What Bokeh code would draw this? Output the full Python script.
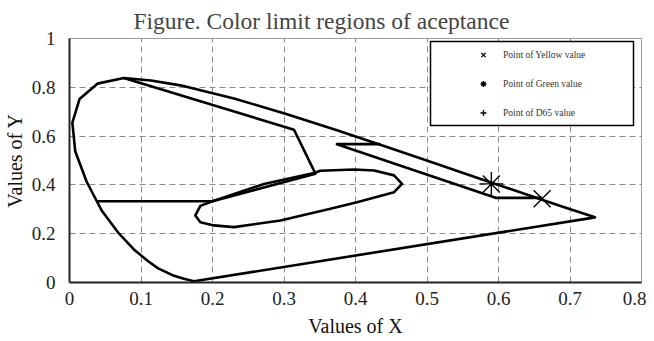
from bokeh.plotting import figure
from bokeh.models import FixedTicker, Legend, LegendItem, BoxAnnotation
from bokeh.embed import file_html
from bokeh.resources import INLINE

# Outer spectral locus (closed by the line of purples)
locus_x = [0.174, 0.160, 0.144, 0.124, 0.110, 0.091, 0.069, 0.045, 0.024, 0.008,
           0.004, 0.014, 0.039, 0.076, 0.114, 0.155, 0.230, 0.302, 0.373, 0.444,
           0.513, 0.575, 0.627, 0.666, 0.692, 0.735, 0.174]
locus_y = [0.005, 0.015, 0.030, 0.058, 0.087, 0.133, 0.201, 0.295, 0.413, 0.538,
           0.655, 0.752, 0.815, 0.838, 0.828, 0.808, 0.754, 0.692, 0.625, 0.555,
           0.487, 0.424, 0.373, 0.334, 0.308, 0.267, 0.005]

# Green acceptance region border
green_x = [0.076, 0.314, 0.344, 0.200, 0.039]
green_y = [0.838, 0.626, 0.446, 0.333, 0.333]

# Yellow acceptance region border
yellow_x = [0.435, 0.374, 0.596, 0.661]
yellow_y = [0.567, 0.567, 0.347, 0.347]

# Loop region
loop_x = [0.200, 0.183, 0.176, 0.183, 0.202, 0.230, 0.295, 0.365, 0.402, 0.454,
          0.465, 0.454, 0.426, 0.398, 0.351, 0.342, 0.272, 0.200]
loop_y = [0.333, 0.314, 0.275, 0.247, 0.234, 0.227, 0.254, 0.302, 0.329, 0.370,
          0.404, 0.439, 0.459, 0.463, 0.458, 0.449, 0.404, 0.333]

# Points
yellow_pt_x = [0.661]
yellow_pt_y = [0.343]
green_pt_x = [0.590]
green_pt_y = [0.404]
d65_pt_x = [0.3127]   # listed in the legend, not drawn in the chart
d65_pt_y = [0.3290]

x_ticks = [0, 0.1, 0.2, 0.3, 0.4, 0.5, 0.6, 0.7, 0.8]
x_labels = ["0", "0.1", "0.2", "0.3", "0.4", "0.5", "0.6", "0.7", "0.8"]
y_ticks = [0, 0.2, 0.4, 0.6, 0.8, 1.0]
y_labels = ["0", "0.2", "0.4", "0.6", "0.8", "1"]

FONT = "Liberation Serif"

p = figure(x_range=(0, 0.8), y_range=(0, 1), frame_width=572, frame_height=244,
           output_backend="svg", toolbar_location=None,
           min_border_left=61, min_border_right=5, min_border_top=30, min_border_bottom=51)

p.title.text = "Figure. Color limit regions of aceptance"
p.title.text_font = FONT
p.title.text_font_size = "23.5px"
p.title.text_font_style = "normal"
p.title.align = "left"
p.title.offset = 64
p.title.standoff = 10

p.background_fill_color = "white"
p.border_fill_color = "white"
p.outline_line_color = "#9a9a9a"
p.outline_line_width = 1

for ax, ticks, labels in ((p.xaxis[0], x_ticks, x_labels), (p.yaxis[0], y_ticks, y_labels)):
    ax.ticker = FixedTicker(ticks=ticks)
    ax.major_label_overrides = {t: l for t, l in zip(ticks, labels)}
    ax.major_label_text_font = FONT
    ax.major_label_text_font_size = "19px"
    ax.major_label_text_color = "#222222"
    ax.axis_label_text_font = FONT
    ax.axis_label_text_font_size = "20px"
    ax.axis_label_text_font_style = "normal"
    ax.axis_label_text_color = "#111111"
    ax.axis_line_color = "#222222"
    ax.axis_line_width = 2
    ax.major_tick_in = 0
    ax.major_tick_out = 0
    ax.minor_tick_line_color = None

p.xaxis.axis_label = "Values of X"
p.yaxis.axis_label = "Values of Y"
p.xaxis.major_label_standoff = 9
p.xaxis.axis_label_standoff = 7
p.yaxis.major_label_standoff = 14
p.yaxis.axis_label_standoff = 3
p.yaxis.major_label_orientation = "horizontal"

p.grid.grid_line_color = "#8c8c8c"
p.grid.grid_line_dash = "6 4"
p.grid.grid_line_width = 1

LW = 2.6
p.line(locus_x, locus_y, line_color="black", line_width=LW, line_join="round")
p.line(green_x, green_y, line_color="black", line_width=LW, line_join="round")
p.line(yellow_x, yellow_y, line_color="black", line_width=LW, line_join="round")
p.line(loop_x, loop_y, line_color="black", line_width=LW, line_join="round")

r_y = p.scatter(yellow_pt_x, yellow_pt_y, marker="x", size=24, line_color="black", line_width=1.4)
r_g = p.scatter(green_pt_x, green_pt_y, marker="asterisk", size=24, line_color="black", line_width=1.4)
r_d = p.scatter(d65_pt_x, d65_pt_y, marker="cross", size=24, line_color="black",
                line_width=1.4, visible=False)

# legend frame (screen units relative to the plot frame)
box = BoxAnnotation(left=361, right=564, bottom=157, top=241,
                    left_units="screen", right_units="screen",
                    bottom_units="screen", top_units="screen",
                    fill_color="white", fill_alpha=1,
                    line_color="black", line_alpha=1, line_width=1.5)
p.add_layout(box)

legend = Legend(items=[
    LegendItem(label="Point of Yellow value", renderers=[r_y]),
    LegendItem(label="Point of Green value", renderers=[r_g]),
    LegendItem(label="Point of D65 value", renderers=[r_d]),
], location=(394, 162))
legend.label_text_font = FONT
legend.label_text_font_size = "9.5px"
legend.label_text_color = "#333333"
legend.glyph_height = 15
legend.glyph_width = 40
legend.label_height = 15
legend.label_standoff = 0
legend.spacing = 14
legend.padding = 6
legend.margin = 0
legend.border_line_color = None
legend.background_fill_alpha = 0
legend.inactive_fill_alpha = 0
legend.click_policy = "none"
p.add_layout(legend)

open("out.html", "w").write(file_html(p, INLINE))
